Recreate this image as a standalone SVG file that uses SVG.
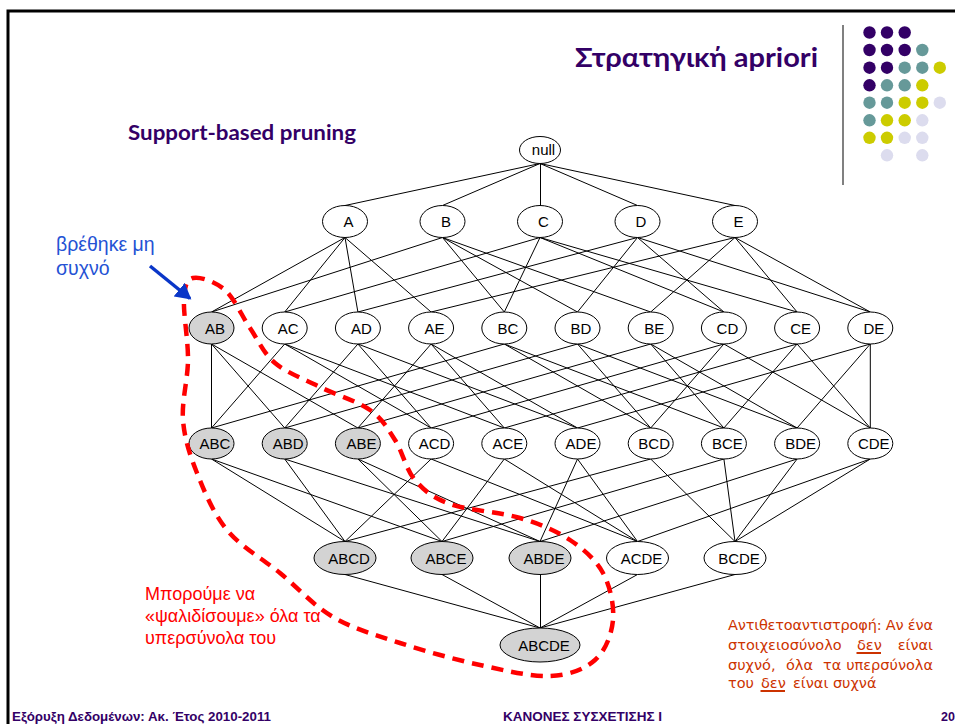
<svg xmlns="http://www.w3.org/2000/svg" width="955" height="724" viewBox="0 0 955 724">
  <defs>
    <style>
      .n ellipse { fill: #ffffff; stroke: #000000; stroke-width: 1; }
      .n.pruned ellipse { fill: #d3d3d3; }
      .n text { font-family: "Liberation Sans", Arial, sans-serif; font-size: 15px; fill: #000000; text-anchor: middle; }
      #edges line { stroke: #000000; stroke-width: 1; }
      .head { font-family: Lato, "Open Sans", sans-serif; font-weight: bold; fill: #330066; }
      .foot { font-family: "Liberation Sans", Arial, sans-serif; font-weight: bold; font-size: 12.5px; fill: #330066; }
      .note { font-family: "DejaVu Sans", sans-serif; font-size: 14.5px; fill: #cc3300; }
      .red { font-family: "Liberation Sans", Arial, sans-serif; font-size: 18px; fill: #ff0000; }
      .blue { font-family: "Liberation Sans", Arial, sans-serif; font-size: 19.5px; fill: #2452d4; }
    </style>
    <marker id="blueHead" markerWidth="5" markerHeight="5" refX="4" refY="2.5" orient="auto" markerUnits="strokeWidth">
      <polygon points="0,0 4.5,2.5 0,5" fill="#0a36c8"/>
    </marker>
  </defs>

  <rect width="955" height="724" fill="#ffffff"/>

  <!-- slide frame -->
  <path d="M8,724 V11 H955" fill="none" stroke="#000000" stroke-width="3"/>

  <!-- heading and decoration -->
  <text class="head" x="575" y="67" font-size="26" textLength="243" lengthAdjust="spacingAndGlyphs">Στρατηγική apriori</text>
  <line x1="843" y1="25" x2="843" y2="185" stroke="#808080" stroke-width="2"/>
  <g id="dots">
    <g fill="#330066">
      <circle cx="869.5" cy="32.5" r="6.2"/><circle cx="887" cy="32.5" r="6.2"/><circle cx="904.7" cy="32.5" r="6.2"/>
      <circle cx="869.5" cy="50" r="6.2"/><circle cx="887" cy="50" r="6.2"/><circle cx="904.7" cy="50" r="6.2"/>
      <circle cx="869.5" cy="67.7" r="6.2"/><circle cx="887" cy="67.7" r="6.2"/>
      <circle cx="869.5" cy="85.3" r="6.2"/>
    </g>
    <g fill="#669999">
      <circle cx="922.3" cy="50" r="6.2"/>
      <circle cx="904.7" cy="67.7" r="6.2"/><circle cx="922.3" cy="67.7" r="6.2"/>
      <circle cx="887" cy="85.3" r="6.2"/><circle cx="904.7" cy="85.3" r="6.2"/>
      <circle cx="869.5" cy="102.7" r="6.2"/><circle cx="887" cy="102.7" r="6.2"/>
      <circle cx="869.5" cy="120.3" r="6.2"/>
    </g>
    <g fill="#cccc00">
      <circle cx="939.8" cy="67.7" r="6.2"/>
      <circle cx="922.3" cy="85.3" r="6.2"/>
      <circle cx="904.7" cy="102.7" r="6.2"/><circle cx="922.3" cy="102.7" r="6.2"/>
      <circle cx="887" cy="120.3" r="6.2"/><circle cx="904.7" cy="120.3" r="6.2"/>
      <circle cx="869.5" cy="137.8" r="6.2"/><circle cx="887" cy="137.8" r="6.2"/>
    </g>
    <g fill="#dcdcee">
      <circle cx="939.8" cy="102.7" r="6.2"/>
      <circle cx="922.3" cy="120.3" r="6.2"/>
      <circle cx="904.7" cy="137.8" r="6.2"/><circle cx="922.3" cy="137.8" r="6.2"/>
      <circle cx="887" cy="155.3" r="6.2"/><circle cx="922.3" cy="155.3" r="6.2"/>
    </g>
  </g>

  <text class="head" x="128" y="140" font-size="20" textLength="228" lengthAdjust="spacingAndGlyphs">Support-based pruning</text>

  <!-- lattice edges -->
  <g id="edges">
    <!-- null to singletons -->
    <line x1="540" y1="163.5" x2="345" y2="205.5"/>
    <line x1="540" y1="163.5" x2="442.5" y2="205.5"/>
    <line x1="540.5" y1="163.5" x2="540.5" y2="205.5"/>
    <line x1="540" y1="163.5" x2="637.5" y2="205.5"/>
    <line x1="540" y1="163.5" x2="735" y2="205.5"/>
    <!-- singletons to pairs -->
    <line x1="345" y1="237.5" x2="211.5" y2="312"/>
    <line x1="345" y1="237.5" x2="284.7" y2="312"/>
    <line x1="345" y1="237.5" x2="357.9" y2="312"/>
    <line x1="345" y1="237.5" x2="431.1" y2="312"/>
    <line x1="442.5" y1="237.5" x2="211.5" y2="312"/>
    <line x1="442.5" y1="237.5" x2="504.3" y2="312"/>
    <line x1="442.5" y1="237.5" x2="577.5" y2="312"/>
    <line x1="442.5" y1="237.5" x2="650.7" y2="312"/>
    <line x1="540" y1="237.5" x2="284.7" y2="312"/>
    <line x1="540" y1="237.5" x2="504.3" y2="312"/>
    <line x1="540" y1="237.5" x2="723.9" y2="312"/>
    <line x1="540" y1="237.5" x2="797.1" y2="312"/>
    <line x1="637.5" y1="237.5" x2="357.9" y2="312"/>
    <line x1="637.5" y1="237.5" x2="577.5" y2="312"/>
    <line x1="637.5" y1="237.5" x2="723.9" y2="312"/>
    <line x1="637.5" y1="237.5" x2="870.3" y2="312"/>
    <line x1="735" y1="237.5" x2="431.1" y2="312"/>
    <line x1="735" y1="237.5" x2="650.7" y2="312"/>
    <line x1="735" y1="237.5" x2="797.1" y2="312"/>
    <line x1="735" y1="237.5" x2="870.3" y2="312"/>
    <!-- pairs to triples -->
    <line x1="211.5" y1="344" x2="211.5" y2="428"/>
    <line x1="211.5" y1="344" x2="284.7" y2="428"/>
    <line x1="211.5" y1="344" x2="357.9" y2="428"/>
    <line x1="284.7" y1="344" x2="211.5" y2="428"/>
    <line x1="284.7" y1="344" x2="431.1" y2="428"/>
    <line x1="284.7" y1="344" x2="504.3" y2="428"/>
    <line x1="357.9" y1="344" x2="284.7" y2="428"/>
    <line x1="357.9" y1="344" x2="431.1" y2="428"/>
    <line x1="357.9" y1="344" x2="577.5" y2="428"/>
    <line x1="431.1" y1="344" x2="357.9" y2="428"/>
    <line x1="431.1" y1="344" x2="504.3" y2="428"/>
    <line x1="431.1" y1="344" x2="577.5" y2="428"/>
    <line x1="504.3" y1="344" x2="211.5" y2="428"/>
    <line x1="504.3" y1="344" x2="650.7" y2="428"/>
    <line x1="504.3" y1="344" x2="723.9" y2="428"/>
    <line x1="577.5" y1="344" x2="284.7" y2="428"/>
    <line x1="577.5" y1="344" x2="650.7" y2="428"/>
    <line x1="577.5" y1="344" x2="797.1" y2="428"/>
    <line x1="650.7" y1="344" x2="357.9" y2="428"/>
    <line x1="650.7" y1="344" x2="723.9" y2="428"/>
    <line x1="650.7" y1="344" x2="797.1" y2="428"/>
    <line x1="723.9" y1="344" x2="431.1" y2="428"/>
    <line x1="723.9" y1="344" x2="650.7" y2="428"/>
    <line x1="723.9" y1="344" x2="870.3" y2="428"/>
    <line x1="797.1" y1="344" x2="504.3" y2="428"/>
    <line x1="797.1" y1="344" x2="723.9" y2="428"/>
    <line x1="797.1" y1="344" x2="870.3" y2="428"/>
    <line x1="870.3" y1="344" x2="577.5" y2="428"/>
    <line x1="870.3" y1="344" x2="797.1" y2="428"/>
    <line x1="870.3" y1="344" x2="870.3" y2="428"/>
    <!-- triples to quadruples -->
    <line x1="211.5" y1="459" x2="345" y2="541.5"/>
    <line x1="211.5" y1="459" x2="442" y2="541.5"/>
    <line x1="284.7" y1="459" x2="345" y2="541.5"/>
    <line x1="284.7" y1="459" x2="540" y2="541.5"/>
    <line x1="357.9" y1="459" x2="442" y2="541.5"/>
    <line x1="357.9" y1="459" x2="540" y2="541.5"/>
    <line x1="431.1" y1="459" x2="345" y2="541.5"/>
    <line x1="431.1" y1="459" x2="637.5" y2="541.5"/>
    <line x1="504.3" y1="459" x2="442" y2="541.5"/>
    <line x1="504.3" y1="459" x2="637.5" y2="541.5"/>
    <line x1="577.5" y1="459" x2="540" y2="541.5"/>
    <line x1="577.5" y1="459" x2="637.5" y2="541.5"/>
    <line x1="650.7" y1="459" x2="345" y2="541.5"/>
    <line x1="650.7" y1="459" x2="735" y2="541.5"/>
    <line x1="723.9" y1="459" x2="442" y2="541.5"/>
    <line x1="723.9" y1="459" x2="735" y2="541.5"/>
    <line x1="797.1" y1="459" x2="540" y2="541.5"/>
    <line x1="797.1" y1="459" x2="735" y2="541.5"/>
    <line x1="870.3" y1="459" x2="637.5" y2="541.5"/>
    <line x1="870.3" y1="459" x2="735" y2="541.5"/>
    <!-- quadruples to the full itemset -->
    <line x1="345" y1="574.5" x2="540" y2="628"/>
    <line x1="442" y1="574.5" x2="540" y2="628"/>
    <line x1="540.5" y1="574.5" x2="540.5" y2="628"/>
    <line x1="637.5" y1="574.5" x2="540" y2="628"/>
    <line x1="735" y1="574.5" x2="540" y2="628"/>
  </g>

  <!-- lattice nodes -->
  <g id="n-null" class="n"><ellipse cx="540" cy="150" rx="20.5" ry="13.5"/><text x="543.5" y="155">null</text></g>

  <g id="n-A" class="n"><ellipse cx="345" cy="221.5" rx="22.5" ry="16"/><text x="348.5" y="227">A</text></g>
  <g id="n-B" class="n"><ellipse cx="442.5" cy="221.5" rx="22.5" ry="16"/><text x="446" y="227">B</text></g>
  <g id="n-C" class="n"><ellipse cx="540" cy="221.5" rx="22.5" ry="16"/><text x="543.5" y="227">C</text></g>
  <g id="n-D" class="n"><ellipse cx="637.5" cy="221.5" rx="22.5" ry="16"/><text x="641" y="227">D</text></g>
  <g id="n-E" class="n"><ellipse cx="735" cy="221.5" rx="22.5" ry="16"/><text x="738.5" y="227">E</text></g>

  <g id="n-AB" class="n pruned"><ellipse cx="211.5" cy="328" rx="22.5" ry="16"/><text x="215" y="333.5">AB</text></g>
  <g id="n-AC" class="n"><ellipse cx="284.7" cy="328" rx="22.5" ry="16"/><text x="288.2" y="333.5">AC</text></g>
  <g id="n-AD" class="n"><ellipse cx="357.9" cy="328" rx="22.5" ry="16"/><text x="361.4" y="333.5">AD</text></g>
  <g id="n-AE" class="n"><ellipse cx="431.1" cy="328" rx="22.5" ry="16"/><text x="434.6" y="333.5">AE</text></g>
  <g id="n-BC" class="n"><ellipse cx="504.3" cy="328" rx="22.5" ry="16"/><text x="507.8" y="333.5">BC</text></g>
  <g id="n-BD" class="n"><ellipse cx="577.5" cy="328" rx="22.5" ry="16"/><text x="581" y="333.5">BD</text></g>
  <g id="n-BE" class="n"><ellipse cx="650.7" cy="328" rx="22.5" ry="16"/><text x="654.2" y="333.5">BE</text></g>
  <g id="n-CD" class="n"><ellipse cx="723.9" cy="328" rx="22.5" ry="16"/><text x="727.4" y="333.5">CD</text></g>
  <g id="n-CE" class="n"><ellipse cx="797.1" cy="328" rx="22.5" ry="16"/><text x="800.6" y="333.5">CE</text></g>
  <g id="n-DE" class="n"><ellipse cx="870.3" cy="328" rx="22.5" ry="16"/><text x="873.8" y="333.5">DE</text></g>

  <g id="n-ABC" class="n pruned"><ellipse cx="211.5" cy="443.5" rx="22.5" ry="15.5"/><text x="215" y="449">ABC</text></g>
  <g id="n-ABD" class="n pruned"><ellipse cx="284.7" cy="443.5" rx="22.5" ry="15.5"/><text x="288.2" y="449">ABD</text></g>
  <g id="n-ABE" class="n pruned"><ellipse cx="357.9" cy="443.5" rx="22.5" ry="15.5"/><text x="361.4" y="449">ABE</text></g>
  <g id="n-ACD" class="n"><ellipse cx="431.1" cy="443.5" rx="22.5" ry="15.5"/><text x="434.6" y="449">ACD</text></g>
  <g id="n-ACE" class="n"><ellipse cx="504.3" cy="443.5" rx="22.5" ry="15.5"/><text x="507.8" y="449">ACE</text></g>
  <g id="n-ADE" class="n"><ellipse cx="577.5" cy="443.5" rx="22.5" ry="15.5"/><text x="581" y="449">ADE</text></g>
  <g id="n-BCD" class="n"><ellipse cx="650.7" cy="443.5" rx="22.5" ry="15.5"/><text x="654.2" y="449">BCD</text></g>
  <g id="n-BCE" class="n"><ellipse cx="723.9" cy="443.5" rx="22.5" ry="15.5"/><text x="727.4" y="449">BCE</text></g>
  <g id="n-BDE" class="n"><ellipse cx="797.1" cy="443.5" rx="22.5" ry="15.5"/><text x="800.6" y="449">BDE</text></g>
  <g id="n-CDE" class="n"><ellipse cx="870.3" cy="443.5" rx="22.5" ry="15.5"/><text x="873.8" y="449">CDE</text></g>

  <g id="n-ABCD" class="n pruned"><ellipse cx="345" cy="558" rx="31" ry="16.5"/><text x="349" y="563.5">ABCD</text></g>
  <g id="n-ABCE" class="n pruned"><ellipse cx="442" cy="558" rx="31" ry="16.5"/><text x="446" y="563.5">ABCE</text></g>
  <g id="n-ABDE" class="n pruned"><ellipse cx="540" cy="558" rx="31" ry="16.5"/><text x="544" y="563.5">ABDE</text></g>
  <g id="n-ACDE" class="n"><ellipse cx="637.5" cy="558" rx="31" ry="16.5"/><text x="641.5" y="563.5">ACDE</text></g>
  <g id="n-BCDE" class="n"><ellipse cx="735" cy="558" rx="31" ry="16.5"/><text x="739" y="563.5">BCDE</text></g>

  <g id="n-ABCDE" class="n pruned"><ellipse cx="540" cy="645" rx="40" ry="17"/><text x="544" y="650.5">ABCDE</text></g>

  <!-- pruned region outline -->
  <path id="pruned-region" fill="none" stroke="#ff0000" stroke-width="4.5" stroke-dasharray="12 8"
    d="M193,278 C199.8,276.3 215.5,281.7 225,290 C234.5,298.3 241.7,315.8 250,328 C258.3,340.2 263.3,353.2 275,363
       C286.7,372.8 304.2,379.2 320,387 C335.8,394.8 357.5,401.2 370,410 C382.5,418.8 387.5,428.3 395,440
       C402.5,451.7 405.8,469.3 415,480 C424.2,490.7 432.5,497.7 450,504 C467.5,510.3 500,512 520,518
       C540,524 556.2,530.8 570,540 C583.8,549.2 595.8,559.7 603,573 C610.2,586.3 614.3,605.5 613,620
       C611.7,634.5 605.5,650.7 595,660 C584.5,669.3 569.2,675.2 550,676 C530.8,676.8 505,670.5 480,665
       C455,659.5 424.5,651 400,643 C375.5,635 353,628.7 333,617 C313,605.3 297.7,587.5 280,573
       C262.3,558.5 240.8,546.7 227,530 C213.2,513.3 204.3,491.3 197,473 C189.7,454.7 184.5,438.8 183,420
       C181.5,401.2 187.8,380 188,360 C188.2,340 183.2,313.7 184,300 C184.8,286.3 186.2,279.7 193,278 Z"/>

  <!-- infrequent itemset callout -->
  <text class="blue" x="56" y="251">βρέθηκε μη</text>
  <text class="blue" x="56" y="275">συχνό</text>
  <line x1="150" y1="266" x2="190" y2="298.5" stroke="#0a36c8" stroke-width="3.5" marker-end="url(#blueHead)"/>

  <text class="red" x="145" y="600">Μπορούμε να</text>
  <text class="red" x="145" y="622">«ψαλιδίσουμε» όλα τα</text>
  <text class="red" x="145" y="644">υπερσύνολα του</text>

  <!-- contrapositive note -->
  <g id="note" class="note">
    <text x="728" y="630" textLength="205" lengthAdjust="spacing">Αντιθετοαντιστροφή: Αν ένα</text>
    <text x="728" y="650">στοιχειοσύνολο</text>
    <text x="857" y="650">δεν</text>
    <text x="933" y="650" text-anchor="end">είναι</text>
    <text x="728" y="670">συχνό,</text>
    <text x="786" y="670">όλα</text>
    <text x="823" y="670">τα</text>
    <text x="933" y="670" text-anchor="end">υπερσύνολα</text>
    <text x="728" y="688">του</text>
    <text x="761" y="688">δεν</text>
    <text x="793" y="688">είναι συχνά</text>
    <line x1="856.5" y1="653" x2="881" y2="653" stroke="#cc3300" stroke-width="2"/>
    <line x1="760.5" y1="691" x2="785" y2="691" stroke="#cc3300" stroke-width="2"/>
  </g>

  <!-- footer -->
  <text class="foot" x="12" y="721" textLength="259" lengthAdjust="spacingAndGlyphs">Εξόρυξη Δεδομένων: Ακ. Έτος 2010-2011</text>
  <text class="foot" x="503" y="721" textLength="159" lengthAdjust="spacingAndGlyphs">ΚΑΝΟΝΕΣ ΣΥΣΧΕΤΙΣΗΣ Ι</text>
  <text class="foot" x="941" y="721">20</text>
</svg>
